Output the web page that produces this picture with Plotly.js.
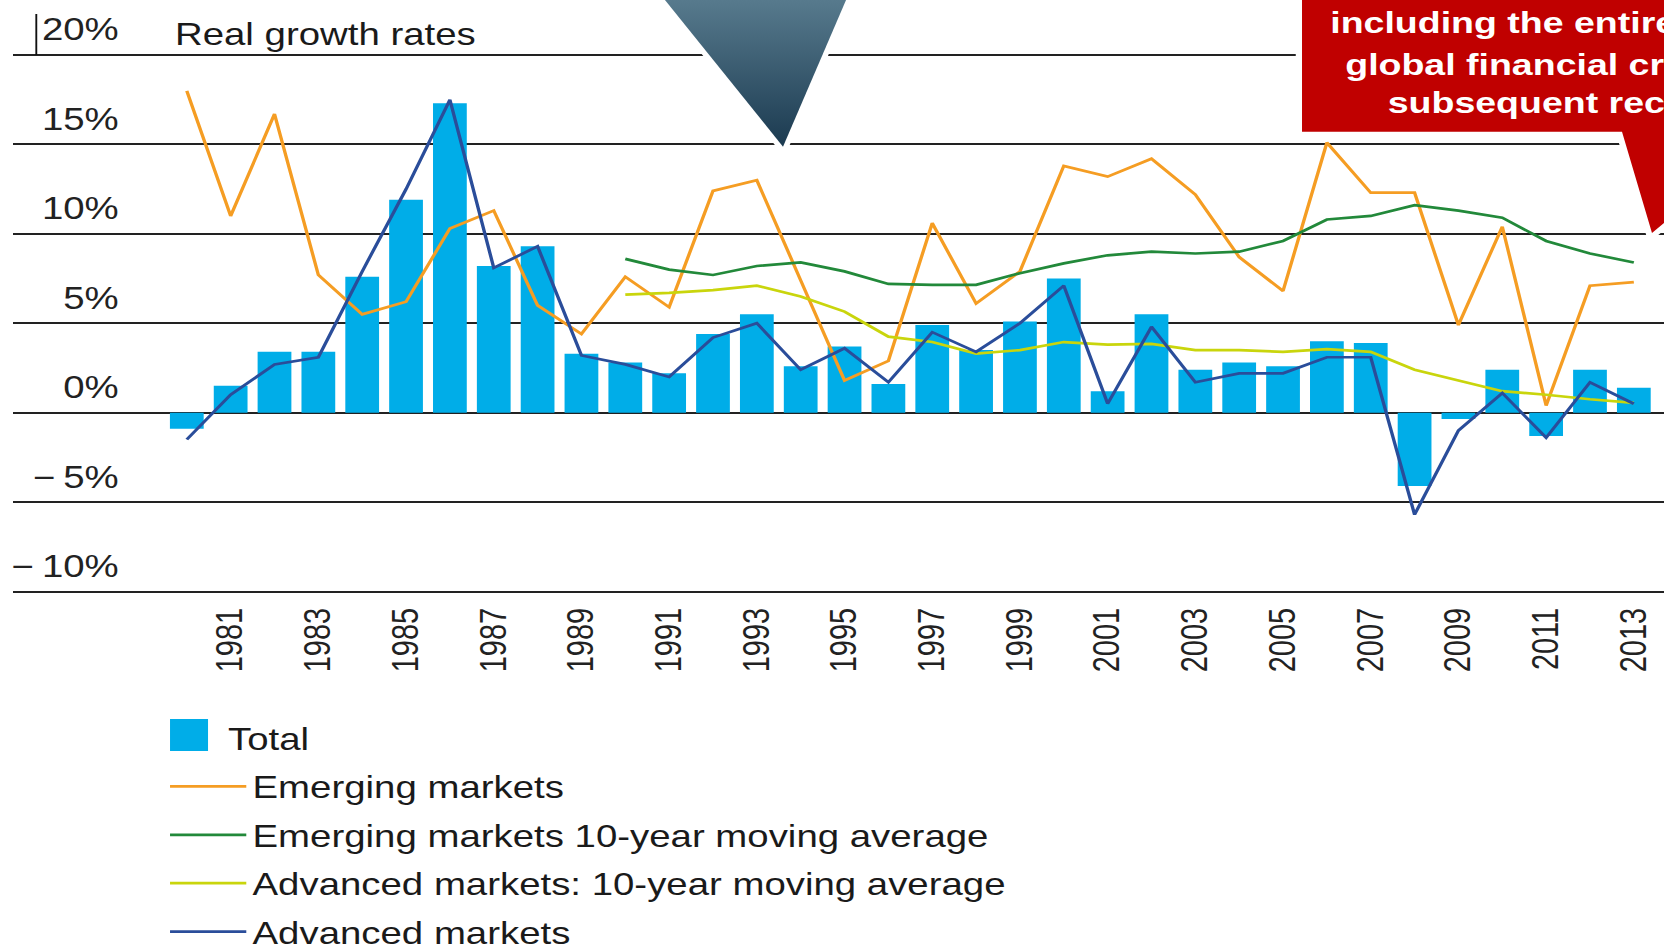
<!DOCTYPE html>
<html>
<head>
<meta charset="utf-8">
<script src="https://cdn.plot.ly/plotly-3.0.1.min.js"></script>
<style>
  html, body { margin: 0; padding: 0; overflow: hidden; background: #ffffff; width: 1664px; height: 948px; }
  #wrap { width: 1331px; height: 948px; transform: scaleX(1.250188); transform-origin: 0 0; }
  #chart { width: 1331px; height: 948px; }
</style>
</head>
<body>
<div id="wrap"><div id="chart"></div></div>
<script>
// ---------------- data ----------------
const years = [1980, 1981, 1982, 1983, 1984, 1985, 1986, 1987, 1988, 1989,
               1990, 1991, 1992, 1993, 1994, 1995, 1996, 1997, 1998, 1999,
               2000, 2001, 2002, 2003, 2004, 2005, 2006, 2007, 2008, 2009,
               2010, 2011, 2012, 2013];
const maYears = [1990, 1991, 1992, 1993, 1994, 1995, 1996, 1997, 1998, 1999,
                 2000, 2001, 2002, 2003, 2004, 2005, 2006, 2007, 2008, 2009,
                 2010, 2011, 2012, 2013];
const total = [-0.9, 1.5, 3.4, 3.4, 7.6, 11.9, 17.3, 8.2, 9.3, 3.3,
               2.8, 2.2, 4.4, 5.5, 2.6, 3.7, 1.6, 4.9, 3.5, 5.1,
               7.5, 1.2, 5.5, 2.4, 2.8, 2.6, 4.0, 3.9, -4.1, -0.35,
               2.4, -1.3, 2.4, 1.4];
const emerging = [18.0, 11.0, 16.7, 7.7, 5.5, 6.2, 10.3, 11.3, 6.0, 4.4,
                  7.6, 5.9, 12.4, 13.0, 7.4, 1.8, 2.9, 10.6, 6.1, 7.9,
                  13.8, 13.2, 14.2, 12.2, 8.7, 6.8, 15.1, 12.3, 12.3, 4.9,
                  10.4, 0.4, 7.1, 7.3];
const emergingMA = [8.6, 8.0, 7.7, 8.2, 8.4, 7.9, 7.2, 7.15, 7.15, 7.8,
                    8.35, 8.8, 9.0, 8.9, 9.0, 9.6, 10.8, 11.0, 11.6, 11.3,
                    10.9, 9.6, 8.9, 8.4];
const advancedMA = [6.6, 6.7, 6.85, 7.1, 6.5, 5.65, 4.25, 3.95, 3.3, 3.5,
                    3.95, 3.8, 3.85, 3.5, 3.5, 3.4, 3.55, 3.4, 2.4, 1.8,
                    1.2, 1.0, 0.75, 0.55];
const advanced = [-1.5, 1.0, 2.7, 3.1, 7.9, 12.5, 17.5, 8.1, 9.3, 3.2,
                  2.7, 2.0, 4.2, 5.0, 2.4, 3.6, 1.7, 4.5, 3.4, 5.0,
                  7.1, 0.5, 4.8, 1.7, 2.2, 2.2, 3.1, 3.1, -5.7, -1.0,
                  1.1, -1.4, 1.7, 0.5];
const tickYears = [1981, 1983, 1985, 1987, 1989, 1991, 1993, 1995, 1997, 1999,
                   2001, 2003, 2005, 2007, 2009, 2011, 2013];
const tickYearLabels = ['1981', '1983', '1985', '1987', '1989', '1991', '1993', '1995', '1997', '1999',
                        '2001', '2003', '2005', '2007', '2009', '2011', '2013'];
const yTicks = [-10, -5, 0, 5, 10, 15, 20];
const yTickLabels = ['\u2212\u200910%', '\u2212\u20095%', '0%', '5%', '10%', '15%', '20%'];
const seriesNames = ['Total', 'Emerging markets', 'Emerging markets 10-year moving average',
                     'Advanced markets: 10-year moving average', 'Advanced markets'];
const chartTitle = 'Real growth rates';
const calloutLines = ['including the entire period of', 'global financial crisis and', 'subsequent recession'];

// ---------------- geometry helpers ----------------
const SX = 1664 / 1331;
const W = 1331, H = 948;
const ML = 10, MR = 0, MT = 30, MB = 354;
const PW = W - ML - MR, PH = H - MT - MB;
const FONT = 'Liberation Sans, Arial, Helvetica, sans-serif';
function px(xa) { return (xa / SX - ML) / PW; }      // screen x -> paper
function py(ya) { return (H - MB - ya) / PH; }       // screen y -> paper
function pathOf(pts) {
  return 'M' + pts.map(p => px(p[0]).toFixed(5) + ',' + py(p[1]).toFixed(5)).join('L') + 'Z';
}

// ---------------- traces ----------------
const colors = ['#00ADE8', '#F59D23', '#22893A', '#C9D50C', '#2A4D9A'];
const LW = 2.7;
const traces = [
  { type: 'bar', name: seriesNames[0], x: years, y: total, width: 0.77,
    marker: { color: colors[0] }, legendgroup: 'g0', hoverinfo: 'skip' },
  { type: 'scatter', mode: 'lines', name: seriesNames[1], x: years, y: emerging,
    line: { color: colors[1], width: LW }, legendgroup: 'g1', hoverinfo: 'skip' },
  { type: 'scatter', mode: 'lines', name: seriesNames[2], x: maYears, y: emergingMA,
    line: { color: colors[2], width: LW }, legendgroup: 'g2', hoverinfo: 'skip' },
  { type: 'scatter', mode: 'lines', name: seriesNames[3], x: maYears, y: advancedMA,
    line: { color: colors[3], width: LW }, legendgroup: 'g3', hoverinfo: 'skip' },
  { type: 'scatter', mode: 'lines', name: seriesNames[4], x: years, y: advanced,
    line: { color: colors[4], width: LW }, legendgroup: 'g4', hoverinfo: 'skip' },
  // empty trace that only carries the label axis (y2)
  { type: 'scatter', mode: 'lines', x: [], y: [], yaxis: 'y2', showlegend: false, hoverinfo: 'skip' }
];

// ---------------- decorations ----------------
const tri = [[655.3, -12], [851.2, -12], [783, 146.7]];
const vb = [480, -40, 240, 220];
const triPts = tri.map(p => (p[0] / SX).toFixed(2) + ',' + p[1].toFixed(2)).join(' ');
const svg = '<svg xmlns="http://www.w3.org/2000/svg" width="' + vb[2] + '" height="' + vb[3] +
  '" viewBox="' + vb.join(' ') + '" preserveAspectRatio="none">' +
  '<defs><linearGradient id="g" x1="0" y1="0" x2="0" y2="146.7" gradientUnits="userSpaceOnUse">' +
  '<stop offset="0" stop-color="#577A8D"/><stop offset="1" stop-color="#1B3A50"/></linearGradient></defs>' +
  '<polygon points="' + triPts + '" fill="#ffffff" stroke="#ffffff" stroke-width="9"/>' +
  '<polygon points="' + triPts + '" fill="url(#g)"/></svg>';
const triImage = {
  source: 'data:image/svg+xml;charset=utf-8,' + encodeURIComponent(svg),
  xref: 'paper', yref: 'paper',
  x: (vb[0] - ML) / PW, y: (H - MB - vb[1]) / PH,
  sizex: vb[2] / PW, sizey: vb[3] / PH,
  xanchor: 'left', yanchor: 'top', sizing: 'stretch', layer: 'above'
};

const callout = [[1302, -20], [1710, -20], [1710, 185], [1652, 233], [1622, 131.7], [1302, 131.7]];
const shapes = [
  { type: 'path', xref: 'paper', yref: 'paper', path: pathOf(callout),
    fillcolor: '#ffffff', line: { color: '#ffffff', width: 10 }, layer: 'above' },
  { type: 'path', xref: 'paper', yref: 'paper', path: pathOf(callout),
    fillcolor: '#C00000', line: { width: 0 }, layer: 'above' },
  { type: 'line', xref: 'paper', yref: 'paper', x0: px(36.3), x1: px(36.3), y0: py(14), y1: py(55),
    line: { color: '#111111', width: 1.5 }, layer: 'above' }
];

const calloutX = [1328, 1343, 1385];
const calloutY = [22.6, 64, 102.6];
const annotations = [
  { xref: 'paper', yref: 'paper', x: px(172), y: py(34), xanchor: 'left', yanchor: 'middle',
    text: chartTitle, showarrow: false, font: { family: FONT, size: 30.7, color: '#1a1a1a' } }
].concat(calloutLines.map((t, i) => ({
  xref: 'paper', yref: 'paper', x: px(calloutX[i]), y: py(calloutY[i]), xanchor: 'left', yanchor: 'middle',
  text: '<b>' + t + '</b>', showarrow: false, font: { family: FONT, size: 30, color: '#ffffff' }
})));

// y scale: 20% gridline at screen y=55, -10% at 591.5 (17.883 px per %)
const PXPCT = 17.883;
const yRange = [-10 - 2.5 / PXPCT, 20 + (55 - MT) / PXPCT];
const labelLift = 3.8 / PXPCT;   // tick labels sit above their gridlines
const yRange2 = [yRange[0] - labelLift, yRange[1] - labelLift];

const layout = {
  width: W, height: H,
  margin: { l: ML, r: MR, t: MT, b: MB, pad: 0, autoexpand: false },
  paper_bgcolor: '#ffffff', plot_bgcolor: 'rgba(0,0,0,0)',
  font: { family: FONT, color: '#1a1a1a' },
  showlegend: true,
  xaxis: {
    range: [1976.025, 2013.688], tickmode: 'array', tickvals: tickYears, ticktext: tickYearLabels,
    tickangle: -90, tickfont: { family: FONT, size: 29, color: '#222222' },
    ticks: '', showgrid: false, zeroline: false, showline: false, automargin: false,
    ticklabelstandoff: 7, fixedrange: true
  },
  yaxis: {
    range: yRange, tickmode: 'array', tickvals: yTicks, showticklabels: false,
    showgrid: true, gridcolor: '#222222', gridwidth: 2, zeroline: false, showline: false,
    ticks: '', automargin: false, fixedrange: true
  },
  yaxis2: {
    overlaying: 'y', anchor: 'free', position: (95 - ML) / PW, side: 'left',
    range: yRange2, tickmode: 'array', tickvals: yTicks, ticktext: yTickLabels,
    tickfont: { family: FONT, size: 30.7, color: '#222222' },
    showgrid: false, zeroline: false, showline: false, ticks: '', automargin: false,
    ticklabelposition: 'outside top', fixedrange: true
  },
  legend: {
    xref: 'container', yref: 'container', x: 131 / W, y: 1 - 711.5 / H,
    xanchor: 'left', yanchor: 'top', orientation: 'v',
    font: { family: FONT, size: 30.7, color: '#1a1a1a' },
    bgcolor: 'rgba(0,0,0,0)', borderwidth: 0, itemwidth: 61,
    tracegroupgap: 5.5, traceorder: 'grouped'
  },
  annotations: annotations,
  shapes: shapes,
  images: [triImage]
};

Plotly.newPlot('chart', traces, layout, { staticPlot: true, displayModeBar: false }).then(function (gd) {
  // the bar series gets a larger square swatch in the legend, with its label closer to it
  const item = gd.querySelector('.legend .traces');
  if (!item) return;
  const sw = item.querySelector('.legendpoints path');
  if (sw) sw.setAttribute('d', 'M-30.5,-19H-0.1V13H-30.5Z');
  const txt = item.querySelector('text.legendtext');
  if (txt) txt.setAttribute('x', String(parseFloat(txt.getAttribute('x') || '0') - 19.6));
});
</script>
</body>
</html>
